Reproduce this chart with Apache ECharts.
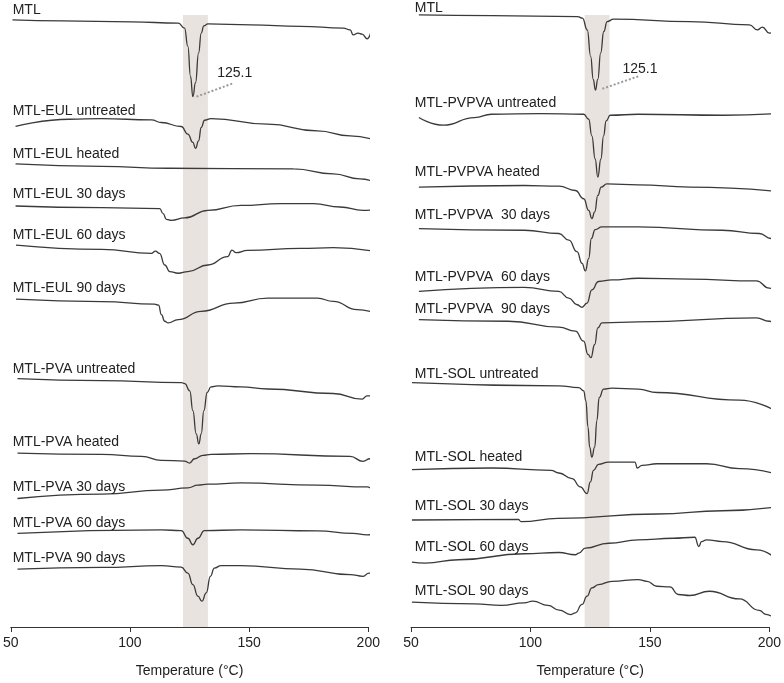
<!DOCTYPE html>
<html>
<head>
<meta charset="utf-8">
<script src="https://cdn.jsdelivr.net/npm/echarts@6/dist/echarts.min.js"></script>
<style>
html,body{margin:0;padding:0;background:#fff;}
#chart{width:784px;height:683px;}
</style>
</head>
<body>
<div id="chart"></div>
<script>
// ---- DATA: [temperature (°C), stacked heat-flow offset (a.u., downward = endothermic)] ----
const leftNames = ['MTL','MTL-EUL untreated','MTL-EUL heated','MTL-EUL 30 days','MTL-EUL 60 days','MTL-EUL 90 days',
  'MTL-PVA untreated','MTL-PVA heated','MTL-PVA 30 days','MTL-PVA 60 days','MTL-PVA 90 days'];
const rightNames = ['MTL','MTL-PVPVA untreated','MTL-PVPVA heated','MTL-PVPVA  30 days','MTL-PVPVA  60 days','MTL-PVPVA  90 days',
  'MTL-SOL untreated','MTL-SOL heated','MTL-SOL 30 days','MTL-SOL 60 days','MTL-SOL 90 days'];

const L_MTL = [[50.7,20],[71.5,21],[100.7,22],[120.3,23.3],[122.9,28.3],[124.3,46.7],[125.4,76.7],[126.4,97.3],[127.5,83.3],[128.8,53.3],[129.9,33.3],[131.0,26],[132.7,24],[150.7,25],[171.5,26.5],[189.5,28.3],[192.4,30],[193.6,35],[195.7,33.3],[197.4,34.3],[199.5,39],[201.0,33.3]];
const L_EUL_untreated = [[52.0,127.3],[74.5,120],[88.2,119.3],[109.0,120.7],[113.2,123.3],[121.5,127.3],[124.3,135],[126.4,143.3],[127.5,149.3],[128.8,141.7],[129.9,128.3],[131.3,121],[134.0,119.3],[157.8,125],[178.6,131.7],[192.4,136.7],[203.6,141.7]];
const L_EUL_heated = [[52.0,165],[88.2,167.5],[116.1,169.3],[168.6,170],[185.3,175],[196.5,180],[203.6,184.3]];
const L_EUL_30 = [[52.0,207.3],[88.2,209],[112.5,210],[113.9,215],[115.3,220.7],[117.4,221.7],[122.9,219.3],[132.7,211.7],[146.5,206.7],[163.2,205],[177.0,205],[188.2,208.3],[197.8,211.7],[202.8,211]];
const L_EUL_60 = [[52.2,246.7],[88.2,251],[109.0,255],[110.7,252.7],[112.4,255],[114.6,266.7],[116.7,273.3],[120.2,275],[124.3,273.3],[132.7,266.7],[141.0,258.3],[142.8,251.7],[144.5,254.3],[149.3,252],[171.5,250],[185.3,249.3],[203.5,253.3]];
const L_EUL_90 = [[52.2,301],[88.2,303.5],[110.3,306],[112.0,307],[113.2,316.7],[114.6,323.3],[116.0,325],[120.2,321.7],[129.9,313.3],[143.6,305],[157.8,300],[178.6,300],[185.3,303.3],[195.3,311.7],[203.6,315.7]];
const L_PVA_untreated = [[52.8,381],[88.2,383],[121.5,385],[123.0,386],[125.1,393.3],[126.4,413.3],[127.8,436.7],[128.9,446.7],[129.9,436.7],[131.0,413.3],[132.4,395],[134.0,389.3],[136.8,388.3],[146.5,389.3],[157.8,391.5],[185.3,396],[197.4,401.7],[199.5,398.3],[204.0,398.3]];
const L_PVA_heated = [[52.8,456],[88.2,457.3],[104.9,459.3],[113.2,463.3],[122.9,464],[125.0,466],[127.1,461.7],[130.6,458.3],[134.0,457.3],[150.7,456.5],[192.4,459.3],[197.8,464.3],[200.7,461.7],[204.0,464]];
const L_PVA_30 = [[52.8,501.7],[88.2,497.3],[113.2,493.3],[124.3,491],[128.5,488.3],[132.7,487.3],[146.5,486],[178.6,488.3],[199.5,490],[201.9,491.7],[204.0,490.7]];
const L_PVA_60 = [[52.8,536.7],[113.2,533.3],[121.5,534],[124.3,541.7],[126.4,548.3],[128.5,541.7],[131.25,534],[146.5,533.3],[178.6,534.3],[193.6,536.7],[199.5,538.3],[204.0,536.7]];
const L_PVA_90 = [[52.8,572.7],[88.2,571],[113.2,569.3],[121.5,570.7],[124.3,576.7],[126.4,588.3],[128.5,600],[130.2,605],[132.0,596.7],[133.75,580],[135.4,571.7],[138.2,569.3],[146.5,569.3],[171.5,572.7],[192.4,578.3],[197.8,580],[200.3,576.7],[204.0,583.3]];

const R_MTL = [[53.3,15],[83.7,15.8],[119.8,16.7],[121.75,18.3],[123.8,30],[125.2,56.7],[126.3,80],[127.2,90.7],[128.2,80],[129.4,53.3],[130.7,31.7],[132.1,21.7],[134.8,19.3],[166.7,21.7],[191.7,25],[195.0,30],[197.1,27.3],[200.0,33.3],[202.9,26]];
const R_PVPVA_untreated = [[53.3,118.3],[63.6,126],[76.6,118.3],[83.7,115],[104.4,114.3],[122.3,115],[124.4,120],[125.7,136.7],[127.1,160],[128.2,178.3],[129.5,160],[130.6,136.7],[131.7,121.7],[133.4,116],[145.1,115],[180.6,116],[203.4,114.3]];
const R_PVPVA_heated = [[53.3,188.3],[97.4,186.7],[111.9,187.3],[118.8,191.7],[122.3,200],[124.4,211.7],[125.7,220],[126.9,213.3],[128.2,196.7],[129.6,188.3],[132.0,185],[145.1,186],[166.7,188.3],[203.3,192.7]];
const R_PVPVA_30 = [[53.3,230],[97.4,231.7],[111.9,235],[116.1,241.7],[119.5,253.3],[121.6,265],[123.0,272.7],[124.4,260],[125.5,240],[127.1,231],[129.9,228.3],[145.1,228.3],[180.3,231.7],[195.8,235],[200.8,240],[203.3,248.3]];
const R_PVPVA_60 = [[53.3,293.3],[97.4,289.3],[111.9,293.3],[116.1,300],[119.5,306.7],[121.6,309.3],[123.7,305],[125.7,291.7],[128.5,283.3],[134.1,281.7],[145.1,280],[166.7,281],[194.6,282.7],[200.0,290],[203.3,296]];
const R_PVPVA_90 = [[53.3,321.7],[90.7,323.3],[111.9,329.3],[118.8,333.3],[122.3,343.3],[124.1,356.7],[125.3,360],[126.9,346.7],[128.2,330],[129.9,325],[145.1,324],[194.6,320],[200.0,323.3],[203.3,328.3]];
const R_SOL_untreated = [[50.4,385],[111.9,388.3],[120.2,390],[122.3,393.3],[123.2,403.3],[124.1,430],[124.8,450],[125.7,460],[126.9,450],[127.8,423.3],[128.8,400],[130.6,391.7],[134.1,390.7],[145.1,391.7],[153.0,395],[187.5,402.7],[201.2,411.7]];
const R_SOL_heated = [[50.4,472.7],[83.7,471],[108.6,473.3],[111.9,476],[117.4,481.7],[120.9,490],[123.7,496.7],[125.1,485],[126.4,473.3],[128.5,467.3],[132.7,465],[143.8,465],[144.7,471],[146.7,468.3],[153.0,466.7],[173.7,466.7],[187.5,471.7],[201.2,476]];
const R_SOL_30 = [[50.4,523.3],[94.9,522.7],[96.1,525],[111.5,521.7],[153.0,517.3],[180.3,514],[201.2,510.7]];
const R_SOL_60 = [[50.4,565.7],[55.9,566.7],[69.9,563.3],[97.4,557.3],[111.9,556],[118.8,558.3],[120.2,556.7],[123.0,551.7],[132.7,546.7],[145.1,543.3],[159.7,541.7],[168.8,540.7],[170.5,550],[171.6,545],[173.7,543.3],[180.3,545],[194.6,553.3],[201.2,559.3]];
const R_SOL_90 = [[50.4,606],[76.6,607.7],[87.8,609.3],[97.4,606.7],[101.0,605],[107.3,609.3],[112.0,614],[116.8,618.5],[118.8,616.7],[121.6,608.3],[123.7,600],[125.7,591.7],[128.5,588.3],[134.1,585],[145.1,583.3],[148.8,585],[152.9,590],[158.4,590.7],[161.9,598.3],[166.7,599.3],[174.9,595],[187.5,602.7],[195.8,614.3],[198.6,618.3],[200.7,620]];

const leftData = [L_MTL,L_EUL_untreated,L_EUL_heated,L_EUL_30,L_EUL_60,L_EUL_90,L_PVA_untreated,L_PVA_heated,L_PVA_30,L_PVA_60,L_PVA_90];
const rightData = [R_MTL,R_PVPVA_untreated,R_PVPVA_heated,R_PVPVA_30,R_PVPVA_60,R_PVPVA_90,R_SOL_untreated,R_SOL_heated,R_SOL_30,R_SOL_60,R_SOL_90];

const xTicks = [50,100,150,200];
const peakLabel = '125.1';

// ---- LAYOUT (annotation placement, in axis units) ----
const leftLabelLevel  = [10,111.7,155,195,236.7,290,371.7,445,490,526,561.7];
const rightLabelLevel = [8.3,104.3,173.3,216.7,279.3,310.7,376.7,460,509.3,550.7,595];
const layout = {
  left:  {band:[122.25,132.7], bandTop:15, labelT:50.8, peakLine:[[127.9,97.3],[143.1,84]], peakText:[136.6,73.3]},
  right: {band:[122.7,133.1],  bandTop:15, labelT:51.6, peakLine:[[130.1,89.3],[145.3,76.7]], peakText:[138.5,70]}
};

const FONT = '"Liberation Sans", Arial, sans-serif';
const TXT = '#222';
const LINE = '#3a3a3a';

const chart = echarts.init(document.getElementById('chart'), null, {renderer:'canvas'});

function axisX(idx){
  return {
    type:'value', gridIndex:idx, min:xTicks[0], max:xTicks[xTicks.length-1], interval:50,
    splitLine:{show:false},
    axisLine:{show:true, onZero:false, lineStyle:{color:'#333', width:1}},
    axisTick:{show:true, length:5, lineStyle:{color:'#333'}},
    axisLabel:{fontSize:14, color:TXT, margin:9, fontFamily:FONT},
    name:'Temperature (°C)', nameLocation:'middle', nameGap:37,
    nameTextStyle:{fontSize:14, color:TXT, fontFamily:FONT}
  };
}
function axisY(idx){
  return {type:'value', gridIndex:idx, inverse:true, min:0, max:631, show:false};
}

const series = [];
function panel(idx, names, data, levels, lay){
  series.push({
    type:'line', xAxisIndex:idx, yAxisIndex:idx, data:[], silent:true, z:1,
    markArea:{silent:true, itemStyle:{color:'#e8e3df'},
      data:[[{xAxis:lay.band[0], yAxis:lay.bandTop},{xAxis:lay.band[1], yAxis:631}]]}
  });
  data.forEach((d,i)=>{
    const s = {
      type:'line', name:names[i], xAxisIndex:idx, yAxisIndex:idx, data:d,
      showSymbol:false, symbol:'none', smooth:0.5, smoothMonotone:'x', clip:false, z:3,
      lineStyle:{color:LINE, width:1.3}, silent:true,
      markPoint:{silent:true, symbol:'circle', symbolSize:0, animation:false,
        data:[{coord:[lay.labelT, levels[i]], label:{show:true, position:'right', distance:0,
          formatter:names[i], fontSize:14, color:TXT, fontFamily:FONT}}]}
    };
    if(i===0){
      s.markLine = {silent:true, symbol:'none', animation:false,
        lineStyle:{type:'dotted', color:'#9a9a9a', width:2},
        label:{show:false},
        data:[[{coord:lay.peakLine[0]},{coord:lay.peakLine[1]}]]};
      s.markPoint.data.push({coord:lay.peakText, label:{show:true, position:'right', distance:0,
        formatter:peakLabel, fontSize:14, color:TXT, fontFamily:FONT}});
    }
    series.push(s);
  });
}
panel(0, leftNames, leftData, leftLabelLevel, layout.left);
panel(1, rightNames, rightData, rightLabelLevel, layout.right);

chart.setOption({
  animation:false,
  backgroundColor:'#fff',
  grid:[
    {left:8.3, right:415.7, top:0, bottom:52},
    {left:411, right:12, top:0, bottom:52}
  ],
  xAxis:[axisX(0), axisX(1)],
  yAxis:[axisY(0), axisY(1)],
  series:series
});
</script>
</body>
</html>
